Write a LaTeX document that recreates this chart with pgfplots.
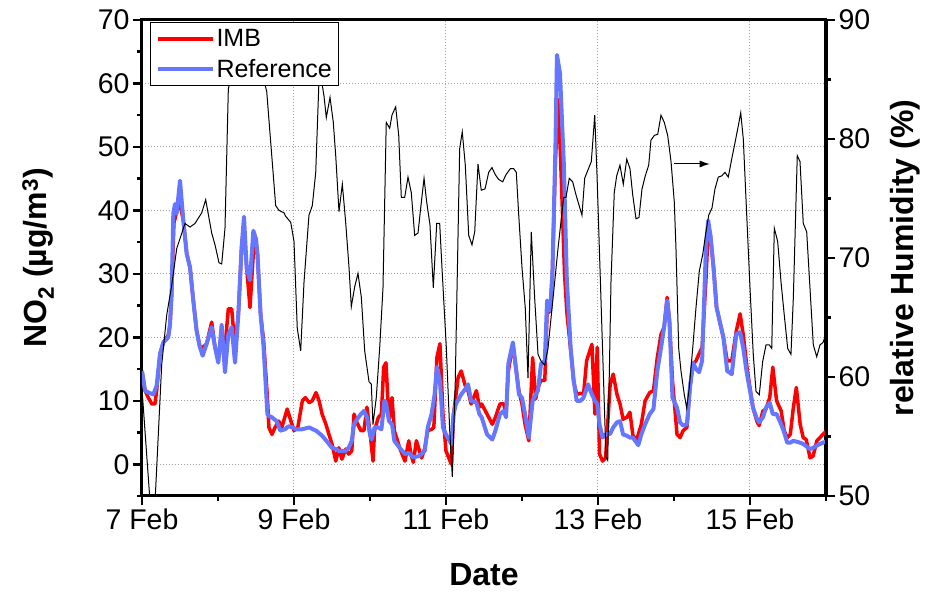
\documentclass[border=0pt]{standalone}
\usepackage{fontspec}
\setmainfont{Liberation Sans}
\usepackage{pgfplots}
\pgfplotsset{compat=1.18}
\usetikzlibrary{arrows.meta}
\definecolor{imbred}{RGB}{255,0,0}
\definecolor{refblue}{RGB}{102,119,255}

\pgfplotsset{
  common/.style={
    at={(0pt,0pt)}, anchor=south west,
    scale only axis, width=684pt, height=476pt,
    xmin=0, xmax=9,
    tick align=outside,
    major tick length=9pt, minor tick length=5pt,
    major tick style={line width=2.5pt, black},
    minor tick style={line width=2.5pt, black},
    axis line style={line width=3pt},
    tick label style={font=\fontsize{28.5}{31}\selectfont},
    /pgf/number format/assume math mode=true,
  },
}
\newcommand{\labelfont}{\bfseries\fontsize{32}{36}\selectfont}

\begin{document}
\begin{tikzpicture}
\useasboundingbox (-142pt,-98pt) rectangle (801pt,496pt);

% left axis: NO2
\begin{axis}[
  common,
  ymin=-5, ymax=70,
  xtick={0,2,4,6,8},
  xticklabels={7 Feb,9 Feb,11 Feb,13 Feb,15 Feb},
  minor xtick={1,3,5,7,9},
  ytick={0,10,...,70},
  minor ytick={-5,5,15,25,35,45,55,65},
  tick pos=left,
  xmajorgrids, ymajorgrids,
  grid style={color=gray!75, line width=1pt, dash pattern=on 1pt off 2pt},
  xlabel={Date},
  ylabel={NO\textsubscript{2} (µg/m\textsuperscript{3})},
  every axis x label/.style={at={(axis description cs:0.5,-0.166)}, anchor=center, font=\labelfont},
  every axis y label/.style={at={(axis description cs:-0.152,0.5)}, rotate=90, anchor=center, font=\labelfont},
]
\addplot[imbred, line width=3.5pt, line join=round] table {
0.000 14.7
0.040 11.6
0.083 10.5
0.130 9.5
0.170 9.5
0.193 11.6
0.237 17.4
0.281 19.2
0.346 20.3
0.368 22.0
0.390 26.8
0.420 38.0
0.440 39.0
0.460 40.0
0.500 41.0
0.544 38.4
0.588 33.2
0.632 31.0
0.675 25.8
0.719 21.0
0.763 18.4
0.798 18.4
0.851 19.0
0.917 22.4
0.961 18.4
1.004 17.4
1.048 19.0
1.092 18.4
1.136 24.5
1.180 24.5
1.224 18.4
1.268 23.7
1.311 34.2
1.342 37.4
1.377 31.0
1.421 24.7
1.465 33.2
1.500 34.2
1.520 33.0
1.560 23.7
1.600 19.5
1.650 10.5
1.670 5.8
1.710 4.7
1.750 5.8
1.800 6.8
1.840 5.8
1.910 8.7
1.960 6.8
2.000 5.3
2.050 5.8
2.110 10.0
2.150 10.5
2.200 9.7
2.240 10.0
2.290 11.3
2.330 10.0
2.370 7.9
2.420 6.3
2.460 4.7
2.500 3.2
2.550 0.5
2.590 2.6
2.630 0.8
2.680 2.4
2.720 1.6
2.760 2.1
2.790 7.9
2.830 6.5
2.880 5.3
2.920 5.3
2.960 9.0
3.000 5.0
3.040 0.5
3.060 5.3
3.110 7.4
3.150 7.9
3.180 15.3
3.210 16.0
3.250 6.8
3.290 10.5
3.320 5.3
3.390 2.6
3.460 0.5
3.510 3.7
3.540 1.5
3.570 0.3
3.610 3.7
3.680 1.0
3.720 2.5
3.760 5.3
3.810 5.5
3.840 5.8
3.880 16.8
3.920 19.0
3.960 7.9
4.000 2.1
4.070 0.0
4.100 7.9
4.160 13.7
4.200 14.7
4.250 12.5
4.290 11.6
4.330 9.5
4.400 11.6
4.440 9.0
4.470 9.5
4.540 7.9
4.610 6.3
4.650 7.4
4.710 9.5
4.760 9.5
4.790 8.0
4.820 14.7
4.880 18.9
4.930 14.2
4.960 11.5
5.000 9.5
5.040 6.3
5.090 3.7
5.140 16.8
5.180 10.3
5.210 12.1
5.250 13.2
5.300 13.2
5.330 23.7
5.370 24.2
5.400 30.0
5.440 48.0
5.480 57.4
5.520 44.0
5.560 30.0
5.590 24.0
5.640 18.0
5.680 13.0
5.720 11.0
5.770 11.2
5.810 11.0
5.850 16.3
5.920 18.9
5.960 7.9
5.990 18.4
6.020 1.6
6.060 0.5
6.100 1.0
6.160 12.6
6.200 14.2
6.250 11.0
6.290 9.5
6.330 7.1
6.380 7.4
6.420 8.2
6.460 4.5
6.510 3.9
6.570 6.3
6.620 10.0
6.680 11.3
6.730 11.6
6.780 16.8
6.830 20.5
6.870 21.6
6.910 26.3
6.940 22.6
6.980 13.2
7.040 4.7
7.080 4.2
7.120 5.3
7.170 5.8
7.210 12.1
7.250 15.8
7.290 16.3
7.330 17.4
7.370 18.4
7.420 29.0
7.450 37.0
7.480 36.0
7.520 31.0
7.560 24.7
7.610 22.0
7.650 20.0
7.700 16.3
7.760 16.3
7.820 21.0
7.870 23.7
7.910 20.5
7.960 15.3
8.000 12.0
8.040 8.9
8.090 6.8
8.120 6.1
8.170 8.4
8.210 8.7
8.260 10.5
8.300 15.3
8.350 10.0
8.410 8.4
8.450 5.3
8.490 4.2
8.530 4.7
8.570 8.9
8.610 12.1
8.660 6.3
8.700 4.2
8.740 3.9
8.790 1.0
8.830 1.3
8.880 3.7
8.920 4.2
8.960 4.7
9.000 5.2
};
\addplot[refblue, line width=4pt, line join=round] table {
0.000 14.7
0.040 11.6
0.083 11.3
0.149 11.0
0.193 12.4
0.237 17.4
0.281 19.2
0.346 20.0
0.368 22.0
0.390 26.8
0.412 39.5
0.434 41.0
0.456 39.5
0.500 44.7
0.544 38.4
0.588 33.2
0.632 31.0
0.675 25.8
0.719 21.0
0.763 18.4
0.798 17.1
0.851 19.0
0.917 21.6
0.961 18.4
1.004 16.0
1.048 22.0
1.092 14.5
1.136 20.5
1.180 21.6
1.224 16.0
1.268 23.7
1.311 34.2
1.342 39.0
1.377 31.0
1.421 29.0
1.465 36.8
1.500 35.5
1.520 33.0
1.560 23.7
1.600 18.4
1.650 7.9
1.670 7.6
1.710 7.4
1.770 6.8
1.820 5.3
1.880 5.5
1.930 6.0
1.980 5.8
2.030 5.5
2.100 5.5
2.200 5.8
2.250 5.5
2.290 5.3
2.370 4.5
2.460 3.2
2.500 2.6
2.550 2.4
2.590 2.1
2.680 2.1
2.720 2.6
2.760 3.7
2.790 6.3
2.830 7.1
2.880 7.9
2.920 8.4
2.960 7.4
3.000 4.7
3.020 3.9
3.060 5.8
3.110 5.8
3.150 5.5
3.190 10.0
3.210 9.7
3.250 6.8
3.290 6.3
3.320 3.7
3.390 2.6
3.460 1.6
3.510 1.8
3.570 1.1
3.650 1.3
3.720 2.1
3.760 5.8
3.810 7.9
3.850 11.0
3.880 15.3
3.920 13.2
3.960 5.8
4.000 4.7
4.070 3.2
4.100 7.9
4.130 9.5
4.200 11.0
4.250 11.8
4.290 12.6
4.330 10.0
4.400 9.7
4.440 7.9
4.470 7.4
4.540 4.7
4.610 3.9
4.650 5.3
4.710 7.9
4.760 8.4
4.790 7.4
4.820 15.8
4.880 19.2
4.930 14.2
4.960 11.0
5.000 10.5
5.040 7.9
5.090 4.2
5.140 10.0
5.180 11.0
5.210 11.6
5.250 15.8
5.300 16.3
5.330 25.8
5.370 24.2
5.400 30.0
5.440 50.0
5.460 64.5
5.500 61.6
5.550 47.4
5.590 29.0
5.640 18.4
5.680 13.2
5.720 10.0
5.770 10.0
5.810 10.5
5.870 12.6
5.920 11.0
5.960 10.0
5.990 9.5
6.020 6.3
6.060 4.2
6.100 4.7
6.160 4.8
6.200 5.8
6.250 6.6
6.290 6.8
6.330 4.7
6.380 4.5
6.420 4.2
6.460 4.2
6.530 3.0
6.570 4.7
6.620 6.3
6.680 7.9
6.730 8.7
6.780 14.7
6.830 18.4
6.870 21.6
6.910 25.8
6.940 22.6
6.980 10.5
7.040 8.9
7.080 6.6
7.120 6.1
7.170 6.3
7.210 12.1
7.250 16.0
7.290 15.0
7.330 14.5
7.370 16.3
7.420 34.2
7.450 38.4
7.480 36.0
7.520 31.0
7.560 24.7
7.610 22.1
7.650 20.0
7.700 14.7
7.760 14.2
7.820 20.5
7.870 20.8
7.910 18.4
7.960 14.2
8.000 11.6
8.040 8.9
8.090 7.2
8.120 6.6
8.170 7.4
8.210 8.9
8.260 9.7
8.300 7.9
8.350 7.9
8.410 6.3
8.450 5.0
8.490 3.4
8.530 3.4
8.570 3.7
8.660 3.4
8.700 3.2
8.790 2.4
8.830 2.6
8.920 3.2
8.960 3.4
9.000 3.6
};
\end{axis}

% right axis: relative humidity
\begin{axis}[
  common,
  ymin=50, ymax=90,
  axis x line=none, axis y line*=right,
  ytick={50,60,...,90},
  minor ytick={55,65,75,85},
  ylabel={relative Humidity (\%)},
  every axis y label/.style={at={(axis description cs:1.1155,0.5)}, rotate=90, anchor=center, font=\labelfont},
  legend style={at={(axis description cs:0.0117,0.996)}, anchor=north west,
    draw=black, line width=1pt, fill=white,
    font=\fontsize{25}{28}\selectfont, inner xsep=5pt, inner ysep=5pt, row sep=7pt},
  legend cell align=left,
  legend image code/.code={\draw[#1] (0pt,0pt) -- (55pt,0pt);},
]
\addlegendimage{imbred, line width=3.5pt}
\addlegendentry{IMB}
\addlegendimage{refblue, line width=4pt}
\addlegendentry{Reference}
\addplot[black, line width=1pt, forget plot] table {
0.000 59.0
0.145 46.0
0.259 61.0
0.325 65.2
0.391 67.7
0.457 70.8
0.566 72.9
0.632 72.6
0.697 72.9
0.786 73.8
0.838 74.9
0.917 72.1
0.961 71.1
1.013 69.6
1.049 69.5
1.092 72.5
1.136 84.2
1.300 89.0
1.480 88.0
1.641 84.0
1.759 74.4
1.803 74.0
1.868 73.8
1.891 73.5
1.957 73.0
2.000 71.4
2.043 64.1
2.088 62.2
2.132 68.0
2.197 73.6
2.241 74.4
2.286 77.2
2.329 85.0
2.360 85.0
2.395 83.6
2.425 81.8
2.474 83.5
2.517 81.4
2.549 78.6
2.592 73.9
2.636 76.2
2.680 73.0
2.724 69.2
2.754 65.9
2.799 67.6
2.842 68.7
2.886 66.7
2.930 62.2
2.987 59.6
3.017 59.4
3.039 56.0
3.083 58.3
3.128 62.5
3.171 67.5
3.214 81.4
3.259 80.9
3.289 82.0
3.338 82.7
3.378 80.3
3.412 75.1
3.457 75.1
3.500 76.8
3.543 75.5
3.588 71.9
3.632 72.1
3.667 74.2
3.711 76.7
3.746 74.7
3.789 72.8
3.833 67.5
3.878 72.9
3.917 72.9
3.947 69.2
4.004 62.5
4.049 55.5
4.083 51.6
4.122 59.6
4.180 79.2
4.214 80.6
4.254 77.8
4.299 71.9
4.342 71.1
4.378 72.2
4.421 77.9
4.464 75.7
4.513 75.8
4.562 77.2
4.605 77.6
4.649 77.0
4.693 76.6
4.746 76.4
4.789 77.0
4.846 77.5
4.891 77.5
4.925 77.2
4.957 73.6
5.000 69.2
5.043 65.8
5.079 59.9
5.122 72.2
5.167 66.6
5.211 61.9
5.254 61.3
5.299 61.0
5.342 62.4
5.386 65.2
5.430 68.0
5.474 70.8
5.517 73.3
5.549 75.1
5.579 75.1
5.622 76.7
5.667 76.4
5.711 75.3
5.789 73.6
5.825 76.7
5.868 77.4
5.912 78.1
5.957 82.0
5.987 77.0
6.105 53.3
6.128 53.0
6.171 68.0
6.214 75.5
6.246 76.9
6.289 77.8
6.333 76.2
6.378 78.3
6.421 77.5
6.457 75.3
6.500 73.3
6.539 73.4
6.579 75.8
6.622 76.9
6.667 77.8
6.697 79.9
6.741 80.3
6.786 80.4
6.829 82.0
6.872 81.4
6.917 80.3
6.961 78.1
7.004 74.7
7.026 70.8
7.062 62.4
7.092 60.5
7.136 58.5
7.167 57.4
7.201 59.1
7.246 62.4
7.289 65.8
7.333 68.9
7.378 70.3
7.421 72.2
7.457 73.6
7.500 74.2
7.539 75.8
7.583 76.8
7.628 76.9
7.671 77.2
7.714 76.8
7.759 78.3
7.803 79.7
7.846 81.1
7.878 82.2
7.912 80.0
7.957 73.6
8.000 67.5
8.043 61.9
8.079 58.8
8.122 58.5
8.167 61.3
8.211 62.7
8.254 62.7
8.286 62.4
8.320 72.5
8.364 71.4
8.408 68.0
8.451 65.2
8.496 62.4
8.539 61.9
8.570 66.6
8.622 78.6
8.658 78.1
8.701 72.9
8.746 72.2
8.789 67.5
8.833 62.7
8.878 61.7
8.921 62.7
8.961 62.9
9.000 63.6
};
\draw[-{Latex[length=10pt,width=7pt]}, line width=1pt] (axis cs:7.0,77.9) -- (axis cs:7.47,77.9);
\end{axis}
\end{tikzpicture}
\end{document}
